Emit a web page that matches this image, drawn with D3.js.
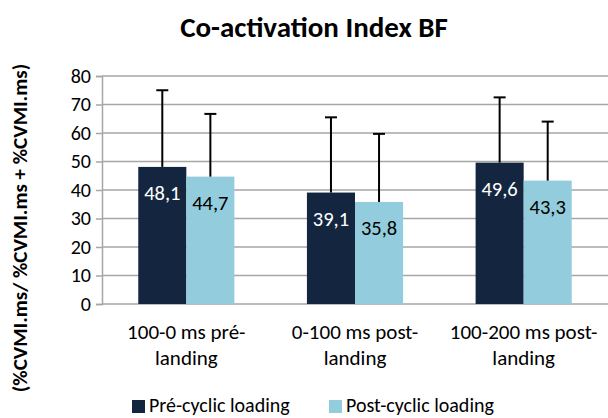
<!DOCTYPE html>
<html>
<head>
<meta charset="utf-8">
<script src="https://cdn.jsdelivr.net/npm/d3@7"></script>
<style>
    body { margin: 0; background: #fff; }
    svg { font-family: Carlito, Lato, "Open Sans", sans-serif; }
</style>
</head>
<body>
<svg id="chart" width="608" height="418"></svg>
<script>
// data
const categories = [['100-0 ms pré-', 'landing'], ['0-100 ms post-', 'landing'], ['100-200 ms post-', 'landing']]
const seriesNames = ['Pré-cyclic loading', 'Post-cyclic loading']
const preValues = [48.1, 39.1, 49.6]
const postValues = [44.7, 35.8, 43.3]
const preErrTop = [75, 65.5, 72.5]
const postErrTop = [66.7, 59.7, 64]
const yTicks = [0, 10, 20, 30, 40, 50, 60, 70, 80]

const COLORS = ['#14263f', '#93cddd']
const LABEL_COLORS = ['#fff', '#000']
const GRID_COLOR = '#a6a6a6'

const svg = d3.select('#chart')
const plot = { left: 102, right: 608, top: 76, bottom: 304 }

const x0 = d3.scaleBand()
    .domain(d3.range(categories.length))
    .range([plot.left, plot.right])
    .paddingInner(0.43)
    .paddingOuter(0.215)
const x1 = d3.scaleBand()
    .domain([0, 1])
    .range([0, x0.bandwidth()])
const y = d3.scaleLinear().domain([0, 80]).range([plot.bottom, plot.top])

// title
svg.append('text')
    .attr('x', 314)
    .attr('y', 37)
    .attr('text-anchor', 'middle')
    .attr('font-size', 29)
    .attr('font-weight', 'bold')
    .text('Co-activation Index BF')

// y axis title
svg.append('text')
    .attr('transform', 'translate(27,228) rotate(-90)')
    .attr('text-anchor', 'middle')
    .attr('font-size', 21)
    .attr('font-weight', 'bold')
    .text('(%CVMI.ms/ %CVMI.ms + %CVMI.ms)')

// gridlines
svg.append('g')
    .selectAll('line')
    .data(yTicks.slice(1))
    .join('line')
    .attr('x1', plot.left)
    .attr('x2', plot.right)
    .attr('y1', d => y(d))
    .attr('y2', d => y(d))
    .attr('stroke', GRID_COLOR)
    .attr('stroke-width', 1.5)

// y axis
const yAxis = svg.append('g')
    .attr('transform', `translate(${plot.left},0)`)
    .call(d3.axisLeft(y).tickValues(yTicks).tickSize(6).tickPadding(5))
yAxis.select('.domain').attr('stroke', GRID_COLOR).attr('stroke-width', 1.5)
yAxis.selectAll('.tick line').attr('stroke', GRID_COLOR).attr('stroke-width', 1.5)
yAxis.selectAll('.tick text')
    .attr('font-size', 20)
    .attr('font-family', 'Carlito, Lato, "Open Sans", sans-serif')
    .attr('fill', '#000')

// x axis baseline
svg.append('line')
    .attr('x1', plot.left)
    .attr('x2', plot.right)
    .attr('y1', y(0))
    .attr('y2', y(0))
    .attr('stroke', GRID_COLOR)
    .attr('stroke-width', 1.5)

const rows = categories.map((c, i) => [
    { s: 0, i, v: preValues[i], err: preErrTop[i] },
    { s: 1, i, v: postValues[i], err: postErrTop[i] }
]).flat()

const bars = svg.append('g')
    .selectAll('g')
    .data(rows)
    .join('g')
    .attr('transform', d => `translate(${x0(d.i) + x1(d.s)},0)`)

bars.append('rect')
    .attr('x', 0)
    .attr('y', d => y(d.v))
    .attr('width', x1.bandwidth())
    .attr('height', d => y(0) - y(d.v))
    .attr('fill', d => COLORS[d.s])

// error bars
bars.append('line')
    .attr('x1', x1.bandwidth() / 2)
    .attr('x2', x1.bandwidth() / 2)
    .attr('y1', d => y(d.v))
    .attr('y2', d => y(d.err))
    .attr('stroke', '#000')
    .attr('stroke-width', 2)
bars.append('line')
    .attr('x1', x1.bandwidth() / 2 - 6)
    .attr('x2', x1.bandwidth() / 2 + 6)
    .attr('y1', d => y(d.err))
    .attr('y2', d => y(d.err))
    .attr('stroke', '#000')
    .attr('stroke-width', 2)

// value labels
bars.append('text')
    .attr('x', x1.bandwidth() / 2)
    .attr('y', d => y(d.v) + 33)
    .attr('text-anchor', 'middle')
    .attr('font-size', 20.5)
    .attr('fill', d => LABEL_COLORS[d.s])
    .text(d => d3.format('.1f')(d.v).replace('.', ','))

// category labels
svg.append('g')
    .selectAll('text')
    .data(categories)
    .join('text')
    .attr('text-anchor', 'middle')
    .attr('font-size', 21)
    .attr('x', (d, i) => x0(i) + x0.bandwidth() / 2)
    .attr('y', 339)
    .selectAll('tspan')
    .data(d => d)
    .join('tspan')
    .attr('x', function () { return this.parentNode.getAttribute('x') })
    .attr('dy', (d, j) => j === 0 ? 0 : 26)
    .text(d => d)

// legend
const legendX = [132, 329]
const legend = svg.append('g')
    .selectAll('g')
    .data(seriesNames)
    .join('g')
    .attr('transform', (d, i) => `translate(${legendX[i]},400)`)
legend.append('rect')
    .attr('width', 13)
    .attr('height', 13)
    .attr('fill', (d, i) => COLORS[i])
legend.append('text')
    .attr('x', 17)
    .attr('y', 12)
    .attr('font-size', 20)
    .text(d => d)
</script>
</body>
</html>
